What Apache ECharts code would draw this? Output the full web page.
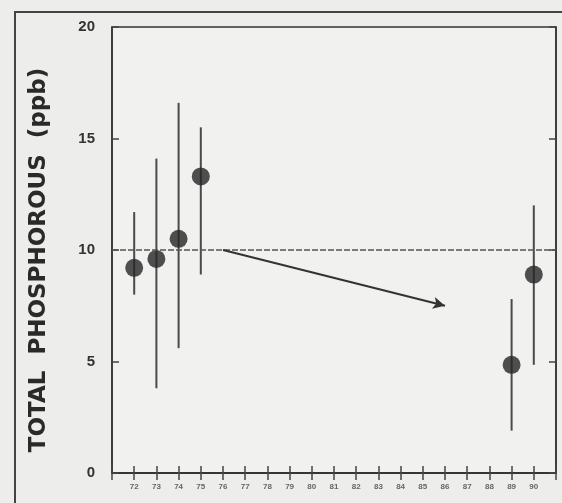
<!DOCTYPE html>
<html>
<head>
<meta charset="utf-8">
<script src="https://cdn.jsdelivr.net/npm/echarts@6/dist/echarts.min.js"></script>
<style>
  html, body { margin: 0; padding: 0; background: #ededeb; }
  #chart { width: 562px; height: 503px; }
</style>
</head>
<body>
<div id="chart"></div>
<script>
// data
var years = [72, 73, 74, 75, 89, 90];
var means = [9.2, 9.6, 10.5, 13.3, 4.85, 8.9];
var lows = [8.0, 3.8, 5.6, 8.9, 1.9, 4.85];
var highs = [11.7, 14.1, 16.6, 15.5, 7.8, 12.0];
var tickYears = [72, 73, 74, 75, 76, 77, 78, 79, 80, 81, 82, 83, 84, 85, 86, 87, 88, 89, 90];
var refLevel = 10;
var trendStart = [76, 10];
var trendEnd = [86, 7.5];

var chart = echarts.init(document.getElementById("chart"));

var barData = years.map(function (y, i) {
  return [y, lows[i], highs[i]];
});
var pointData = years.map(function (y, i) {
  return [y, means[i]];
});

var axisLine = { show: true, lineStyle: { color: "#333", width: 1.5 } };
var ticks = { show: true, inside: true, length: 7, lineStyle: { color: "#444", width: 1.5 } };

var option = {
  backgroundColor: "#ededeb",
  animation: false,
  graphic: [
    {
      type: "rect",
      shape: { x: 15, y: 12, width: 560, height: 500 },
      style: { fill: "none", stroke: "#444", lineWidth: 2 },
      silent: true,
    },
    {
      // y axis title, placed a bit below the plot centre like the scan
      type: "text",
      x: 39,
      y: 260,
      rotation: Math.PI / 2,
      silent: true,
      style: {
        text: "TOTAL  PHOSPHOROUS  (ppb)",
        fontSize: 23,
        fontWeight: "bold",
        fontFamily: "DejaVu Sans",
        fill: "#2a2a2a",
        align: "center",
        verticalAlign: "middle",
      },
    },
  ],
  grid: {
    left: 112,
    right: 6,
    top: 27,
    bottom: 30,
    show: true,
    backgroundColor: "#f1f1ef",
    borderColor: "#333",
    borderWidth: 1.5,
  },
  xAxis: [
    {
      type: "value",
      min: 71,
      max: 91,
      interval: 1,
      axisLine: axisLine,
      axisTick: ticks,
      splitLine: { show: false },
      axisLabel: {
        margin: 10,
        fontSize: 8,
        fontWeight: "bold",
        color: "#666",
        fontFamily: "Liberation Sans",
        formatter: function (v) {
          return tickYears.indexOf(v) >= 0 ? String(v) : "";
        },
      },
    },
    {
      type: "value",
      position: "top",
      min: 71,
      max: 91,
      interval: 1,
      axisLine: axisLine,
      axisTick: ticks,
      axisLabel: { show: false },
      splitLine: { show: false },
    },
  ],
  yAxis: [
    {
      type: "value",
      min: 0,
      max: 20,
      interval: 5,
      axisLine: axisLine,
      axisTick: ticks,
      splitLine: { show: false },
      axisLabel: {
        margin: 17,
        fontSize: 15,
        fontWeight: "bold",
        color: "#333",
        fontFamily: "Liberation Sans",
      },
    },
    {
      type: "value",
      position: "right",
      min: 0,
      max: 20,
      interval: 5,
      axisLine: axisLine,
      axisTick: ticks,
      axisLabel: { show: false },
      splitLine: { show: false },
    },
  ],
  series: [
    {
      type: "custom",
      data: barData,
      renderItem: function (params, api) {
        var top = api.coord([api.value(0), api.value(2)]);
        var bot = api.coord([api.value(0), api.value(1)]);
        return {
          type: "line",
          shape: { x1: top[0], y1: top[1], x2: bot[0], y2: bot[1] },
          style: { stroke: "#4a4a4a", lineWidth: 2 },
        };
      },
      z: 2,
    },
    {
      type: "scatter",
      data: pointData,
      symbolSize: 18,
      itemStyle: { color: "#262626" },
      z: 3,
      markLine: {
        silent: true,
        symbol: "none",
        label: { show: false },
        lineStyle: { color: "#555", type: [6, 2], width: 1.5 },
        data: [{ yAxis: refLevel }],
      },
    },
    {
      type: "scatter",
      data: [],
      markLine: {
        silent: true,
        label: { show: false },
        symbol: ["none", "arrow"],
        symbolSize: [9, 12],
        lineStyle: { color: "#333", type: "solid", width: 2 },
        data: [[{ coord: trendStart }, { coord: trendEnd }]],
      },
    },
  ],
};

chart.setOption(option);
</script>
</body>
</html>
